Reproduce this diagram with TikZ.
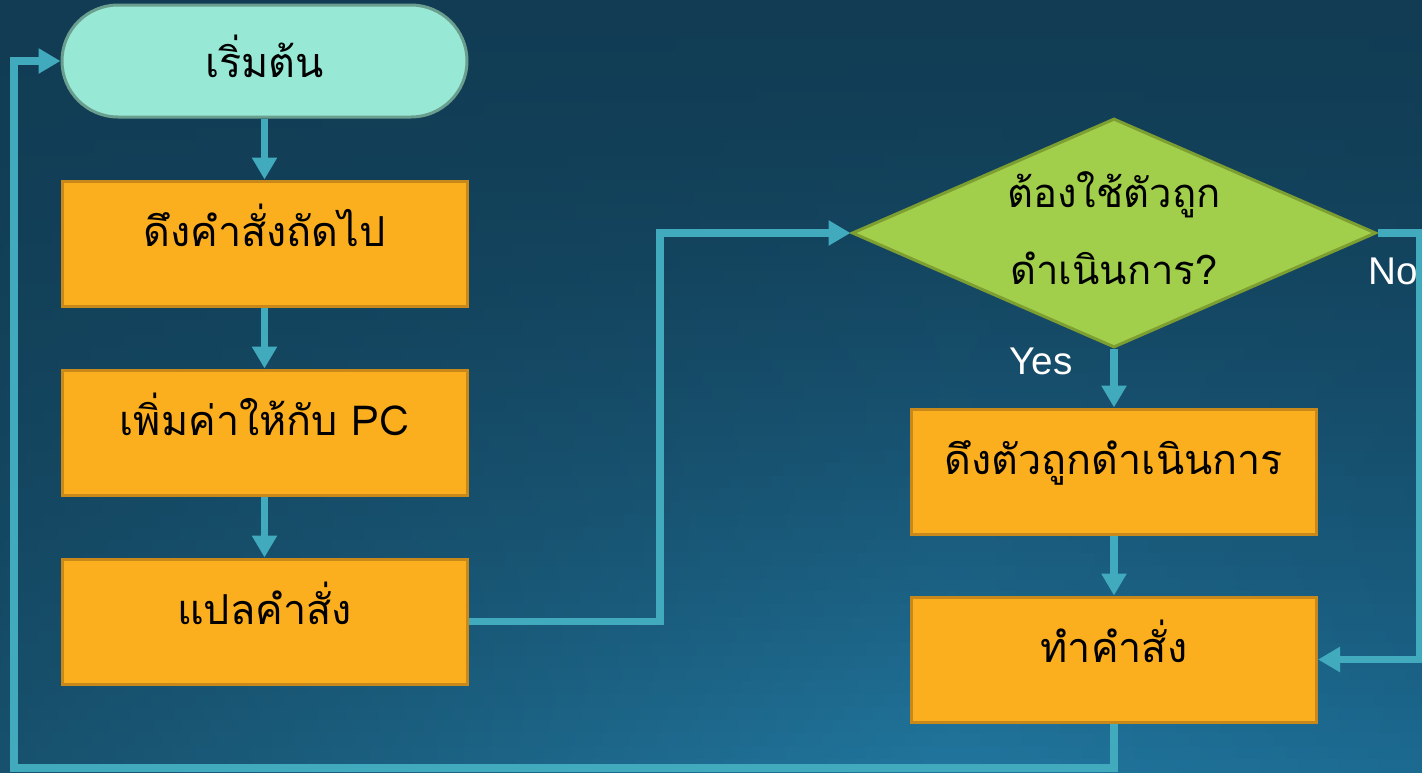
\documentclass[tikz,border=0pt]{standalone}
\usepackage{fontspec}
\newfontfamily\thaifont[Script=Thai]{Loma}
\setsansfont{Liberation Sans}
\usetikzlibrary{shapes.geometric,shapes.misc,arrows.meta}
\definecolor{bgdark}{HTML}{113C54}
\definecolor{bgBL}{HTML}{17516D}
\definecolor{bglight}{HTML}{21769E}
\definecolor{bgBR}{HTML}{1C6A91}
\definecolor{boxfill}{HTML}{FCAF1E}
\definecolor{boxline}{HTML}{C8881A}
\definecolor{mint}{HTML}{98E8D6}
\definecolor{mintline}{HTML}{6A9E8E}
\definecolor{leaf}{HTML}{A2CF4B}
\definecolor{leafline}{HTML}{7D9E30}
\definecolor{flow}{HTML}{41ABBD}
\tikzset{
  procbox/.style={rectangle, fill=boxfill, draw=boxline, line width=2.25pt,
    minimum width=303.75pt, minimum height=93.75pt, inner sep=0pt,
    text height=24pt, text depth=19.5pt,
    font=\thaifont\fontsize{31pt}{36pt}\selectfont, text=black},
  startbox/.style={rounded rectangle, fill=mint, draw=mintline, line width=2.25pt,
    minimum width=303.75pt, minimum height=84pt, inner sep=0pt,
    text height=24pt, text depth=0pt,
    font=\thaifont\fontsize{31pt}{36pt}\selectfont, text=black},
  decbox/.style={diamond, aspect=2.29, fill=leaf, draw=leafline, line width=2.25pt,
    minimum width=393pt, minimum height=171.75pt, inner sep=0pt},
  dectxt/.style={align=center, inner sep=0pt,
    font=\thaifont\fontsize{30pt}{58pt}\selectfont, text=black},
  flowline/.style={draw=flow, line width=5.5pt, -{Triangle[width=18pt,length=16.5pt]}},
  lbl/.style={text=white, font=\sffamily\fontsize{29pt}{34pt}\selectfont, inner sep=0pt}
}
\begin{document}
\begin{tikzpicture}[x=0.75pt,y=-0.75pt]
\useasboundingbox (0,0) rectangle (1422,772);
\begin{scope}
  \clip (0,0) rectangle (1422,772);
  \fill[bgdark] (0,0) rectangle (1422,772);
  \foreach \i in {0,...,59}{
    \pgfmathsetmacro\p{100*(((\i+0.5)/60)^1.6)}
    \pgfmathsetmacro\ya{\i*12.86667}
    \pgfmathsetmacro\yb{(\i+1)*12.86667+1}
    \colorlet{cL}{bgBL!\p!bgdark}
    \colorlet{cM}{bglight!\p!bgdark}
    \colorlet{cR}{bgBR!\p!bgdark}
    \shade[left color=cL, right color=cM] (0,\ya) rectangle (951,\yb);
    \shade[left color=cM, right color=cR] (950,\ya) rectangle (1422,\yb);
  }
\end{scope}
\node[startbox] (start) at (264.5,61) {เริ่มต้น};
\node[procbox] (b1) at (264.5,243.5) {ดึงคำสั่งถัดไป};
\node[procbox] (b2) at (264.5,432.5) {เพิ่มค่าให้กับ PC};
\node[procbox] (b3) at (264.5,621.5) {แปลคำสั่ง};
\node[decbox] (dec) at (1114,233) {};
\node[dectxt] (dectext) at (1114,228) {ต้องใช้ตัวถูก\\ดำเนินการ?};
\node[procbox] (b4) at (1114,471.5) {ดึงตัวถูกดำเนินการ};
\node[procbox] (b5) at (1114,659.5) {ทำคำสั่ง};
\coordinate (jx) at (660,400);
\coordinate (rx) at (1420,400);
\coordinate (bl) at (14,768);
\draw[flowline] (start.south) -- (b1.north);
\draw[flowline] (b1.south) -- (b2.north);
\draw[flowline] (b2.south) -- (b3.north);
\draw[flowline] (b3.east) -| (jx) |- (dec.west);
\draw[flowline] (dec.south) -- (b4.north);
\draw[flowline] (b4.south) -- (b5.north);
\draw[flowline] (dec.east) -| (rx) |- (b5.east);
\draw[flowline] (b5.south) |- (bl) |- (start.west);
\node[lbl] (yes) at (1041,361) {Yes};
\node[lbl] (no) at (1393,271) {No};
\end{tikzpicture}
\end{document}
